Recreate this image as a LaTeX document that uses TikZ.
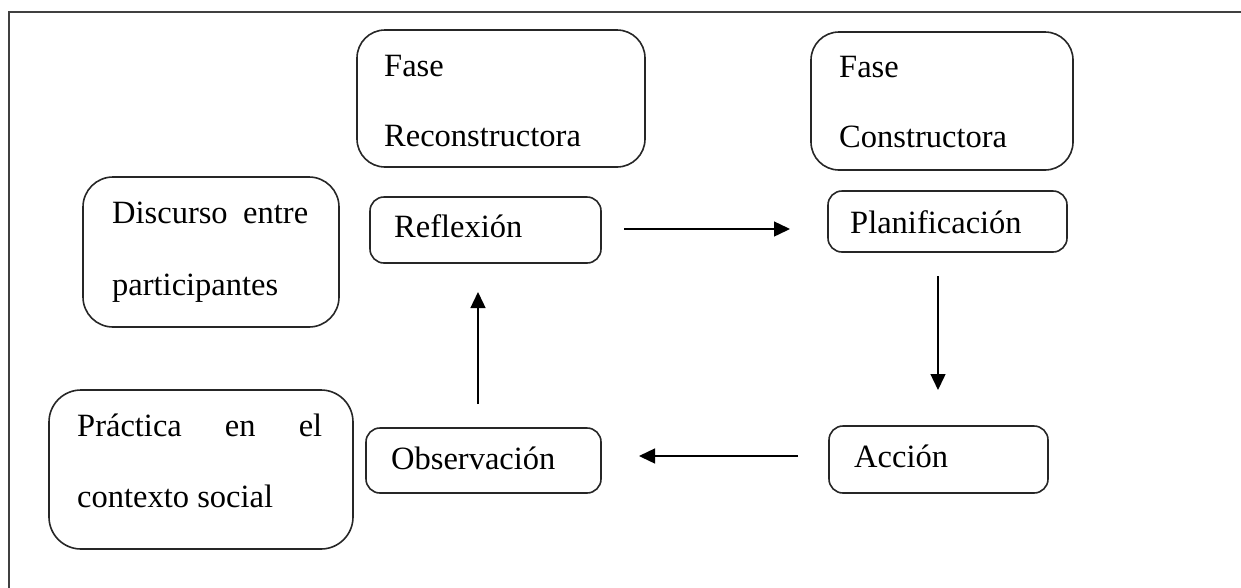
\documentclass[tikz,border=0pt]{standalone}
\usepackage{fontspec}
\setmainfont{Liberation Serif}
\usetikzlibrary{arrows.meta}
\begin{document}
\begin{tikzpicture}[x=1pt,y=-1pt,
  box/.style={draw=black!85, line width=1.6pt, rounded corners=#1, inner sep=0pt},
  txt/.style={anchor=base west, inner sep=0pt, font=\fontsize{32.5}{39}\selectfont},
  arr/.style={line width=1.4pt, -{Triangle[length=16pt,width=15pt]}},
  frame/.style={draw=black!75, line width=2pt}]
\useasboundingbox (0,0) rectangle (1241,587);
\clip (0,0) rectangle (1241,587);
% outer frame, running past the right and bottom edges
\draw[frame] (9,12) rectangle (1300,650);

% boxes
\node[box=28pt, minimum width=288pt, minimum height=137pt] (recon) at (501,98.5) {};
\node[box=28pt, minimum width=262pt, minimum height=138pt] (constr) at (942,101) {};
\node[box=30pt, minimum width=256pt, minimum height=150pt] (disc) at (211,252) {};
\node[box=14pt, minimum width=231pt, minimum height=66pt] (refl) at (485.5,230) {};
\node[box=14pt, minimum width=239pt, minimum height=61pt] (plan) at (947.5,221.5) {};
\node[box=14pt, minimum width=235pt, minimum height=65pt] (obs) at (483.5,460.5) {};
\node[box=14pt, minimum width=219pt, minimum height=67pt] (acc) at (938.5,459.5) {};
\node[box=32pt, minimum width=304pt, minimum height=159pt] (prac) at (201,469.5) {};

% texts
\node[txt] (reconA) at (384,76) {Fase};
\node[txt] (reconB) at (384,146) {Reconstructora};
\node[txt] (constrA) at (839,77) {Fase};
\node[txt] (constrB) at (839,147) {Constructora};
\node[txt] (discA) at (112,223) {\makebox[196pt][s]{Discurso entre}};
\node[txt] (discB) at (112,295) {participantes};
\node[txt] (reflT) at (394,237) {Reflexión};
\node[txt] (planT) at (850,233) {Planificación};
\node[txt] (obsT) at (391,469) {Observación};
\node[txt] (accT) at (854,467) {Acción};
\node[txt] (pracA) at (77,436) {\makebox[245pt][s]{Práctica en el}};
\node[txt] (pracB) at (77,507) {contexto social};

% cycle arrows
\coordinate (rpS) at (624,229);
\coordinate (rpE) at (790,229);
\coordinate (paS) at (938,276);
\coordinate (paE) at (938,390);
\coordinate (aoS) at (798,456);
\coordinate (aoE) at (639,456);
\coordinate (orS) at (478,404);
\coordinate (orE) at (478,292);
\draw[arr] (rpS) -- (rpE);
\draw[arr] (paS) -- (paE);
\draw[arr] (aoS) -- (aoE);
\draw[arr] (orS) -- (orE);
\end{tikzpicture}
\end{document}
